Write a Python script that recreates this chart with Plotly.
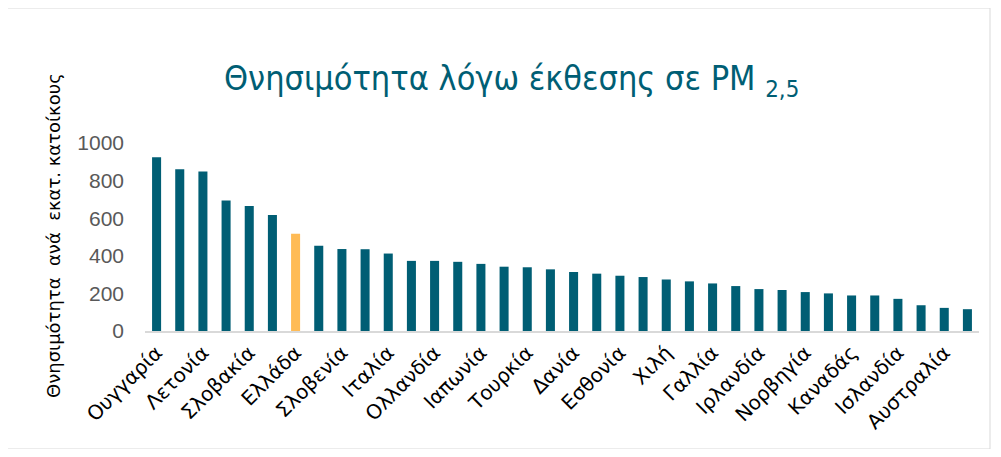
import plotly.graph_objects as go

# Countries in the order of the chart (only every other name is shown on the axis)
COUNTRIES = [
    "Ουγγαρία", "Πολωνία", "Λετονία", "Λιθουανία", "Σλοβακία", "Τσεχία",
    "Ελλάδα", "Γερμανία", "Σλοβενία", "Αυστρία", "Ιταλία", "Βέλγιο",
    "Ολλανδία", "Κορέα", "Ιαπωνία", "Λουξεμβούργο", "Τουρκία", "Πορτογαλία",
    "Δανία", "Ην. Βασίλειο", "Εσθονία", "Ισραήλ", "Χιλή", "Ισπανία",
    "Γαλλία", "Ελβετία", "Ιρλανδία", "Μεξικό", "Νορβηγία", "Σουηδία",
    "Καναδάς", "ΗΠΑ", "Ισλανδία", "Φινλανδία", "Αυστραλία", "Ν. Ζηλανδία",
]
DEATHS_PER_MILLION = [
    924, 860, 849, 694, 665, 617,
    517, 453, 436, 435, 412, 373,
    373, 368, 357, 342, 339, 328,
    314, 305, 294, 287, 274, 264,
    253, 239, 223, 218, 207, 200,
    189, 189, 171, 137, 123, 116,
]
HIGHLIGHT = "Ελλάδα"
Y_TICKS = [0, 200, 400, 600, 800, 1000]

TEAL = "#005E74"
ORANGE = "#FFBB55"

colors = [ORANGE if c == HIGHLIGHT else TEAL for c in COUNTRIES]

fig = go.Figure()
fig.add_trace(go.Bar(x=COUNTRIES, y=DEATHS_PER_MILLION, marker={"color": colors, "line": {"width": 0}}))

# page body has an 8px margin, so the figure is a bit smaller than the window
fig.update_layout(
    width=985,
    height=441,
    margin={"l": 137, "r": 14, "t": 135, "b": 118},
    paper_bgcolor="white",
    plot_bgcolor="white",
    bargap=0.61,
    showlegend=False,
    xaxis={
        "tickmode": "array",
        "tickvals": COUNTRIES[::2],
        "ticktext": COUNTRIES[::2],
        "tickangle": -45,
        "tickfont": {"family": "DejaVu Sans", "size": 20, "color": "black"},
        "showline": True,
        "linecolor": "#D9D9D9",
        "linewidth": 2,
        "ticks": "",
        "automargin": False,
    },
    yaxis={
        "range": [0, 1000],
        "tickvals": Y_TICKS,
        "showgrid": False,
        "zeroline": False,
        "tickfont": {"family": "Liberation Sans", "size": 21, "color": "#595959"},
        "ticklabelstandoff": 20,
        "automargin": False,
    },
    annotations=[
        {
            "text": "Θνησιμότητα λόγω έκθεσης σε PM <sub>2,5</sub>",
            "xref": "paper", "yref": "paper",
            "x": (511 - 145) / 834, "y": (331 - 80) / 188,
            "xanchor": "center", "yanchor": "middle",
            "showarrow": False,
            "font": {"family": "DejaVu Sans Condensed", "size": 34, "color": TEAL},
        },
        {
            "text": "Θνησιμότητα  ανά  εκατ. κατοίκους",
            "xref": "paper", "yref": "paper",
            "x": (53 - 145) / 834, "y": (331 - 236) / 188,
            "xanchor": "center", "yanchor": "middle",
            "textangle": -90,
            "showarrow": False,
            "font": {"family": "DejaVu Sans", "size": 18, "color": "black"},
        },
    ],
    shapes=[
        {
            "type": "rect", "xref": "paper", "yref": "paper",
            "x0": (7 - 145) / 834, "x1": (990 - 145) / 834,
            "y0": (331 - 449) / 188, "y1": (331 - 8) / 188,
            "line": {"color": "#D9D9D9", "width": 1},
        }
    ],
)

fig.write_html("out.html")
